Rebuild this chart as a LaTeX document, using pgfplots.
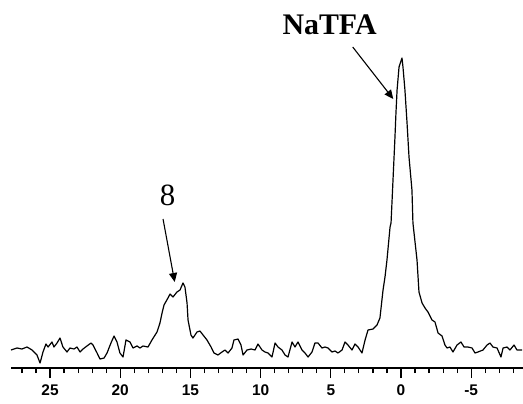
\documentclass[border=0pt]{standalone}
\usepackage{pgfplots}
\pgfplotsset{compat=1.18}
\usetikzlibrary{arrows.meta}
\usepackage{fontspec}
\setmainfont{Liberation Serif}
\newfontfamily\arialfont{Liberation Sans}
\begin{document}
\begin{tikzpicture}[x=1bp,y=1bp]
\useasboundingbox (0,0) rectangle (523,403);
\begin{axis}[
  at={(11bp,35bp)}, anchor=south west,
  scale only axis, width=512bp, height=368bp,
  x dir=reverse,
  xmin=-8.69, xmax=27.78, ymin=0, ymax=368,
  axis x line=bottom, axis y line=none,
  axis line style={line width=1.6bp, -},
  xtick={-5,0,5,10,15,20,25},
  minor xtick={-8,-7,-6,-4,-3,-2,-1,1,2,3,4,6,7,8,9,11,12,13,14,16,17,18,19,21,22,23,24,26,27},
  tick align=outside,
  major tick length=10bp, minor tick length=5bp,
  every tick/.style={line width=1.2bp, black},
  xticklabel style={font=\arialfont\bfseries\fontsize{15.5}{17}\selectfont, yshift=-6bp, inner sep=1bp},
  /pgf/number format/assume math mode=true,
  clip=false,
]
\addplot[black, line width=1.2bp, line join=round] coordinates {
(27.78,18) (27.35,20) (27.00,19) (26.64,21) (26.28,18) (25.93,13) (25.71,5) (25.50,16)
(25.29,24) (25.14,21) (24.86,26) (24.72,21) (24.50,25) (24.29,30) (24.08,21) (23.79,16)
(23.58,20) (23.29,19) (23.08,21) (22.86,16) (22.65,19) (22.37,22) (22.08,25) (21.94,23)
(21.65,15) (21.44,9) (21.15,10) (20.94,15) (20.66,25) (20.44,32) (20.23,26) (20.02,15)
(19.80,11) (19.59,28) (19.30,26) (19.09,20) (18.80,22) (18.59,20) (18.38,22) (18.02,21)
(17.74,28) (17.38,36) (17.17,45) (17.02,55) (16.88,63) (16.60,70) (16.45,74) (16.24,71)
(15.96,76) (15.74,78) (15.53,85) (15.39,81) (15.24,65) (15.17,48) (14.96,33) (14.82,30)
(14.53,36) (14.32,37) (14.10,33) (13.82,28) (13.53,21) (13.32,15) (13.04,13) (12.75,16)
(12.54,18) (12.32,15) (12.04,20) (11.90,28) (11.61,29) (11.40,23) (11.25,13) (10.97,18)
(10.68,19) (10.40,18) (10.19,24) (9.90,18) (9.69,16) (9.47,15) (9.19,11) (8.97,25)
(8.76,21) (8.48,18) (8.26,13) (8.05,11) (7.76,26) (7.55,21) (7.34,26) (7.05,18)
(6.84,15) (6.62,11) (6.34,16) (6.13,25) (5.91,25) (5.63,20) (5.41,21) (5.20,20)
(4.91,16) (4.70,17) (4.49,15) (4.20,18) (3.99,26) (3.78,23) (3.49,18) (3.28,24)
(3.06,21) (2.78,15) (2.56,28) (2.35,38) (1.99,39) (1.71,43) (1.50,50) (1.28,78)
(1.14,91) (1.00,108) (0.78,141) (0.71,145) (0.57,188) (0.43,231) (0.36,255) (0.28,278)
(0.14,301) (-0.07,310) (-0.14,301) (-0.28,278) (-0.43,245) (-0.57,211) (-0.78,178) (-0.85,145)
(-1.14,108) (-1.28,76) (-1.50,65) (-1.71,60) (-1.92,56) (-2.21,48) (-2.42,46) (-2.64,35)
(-2.92,32) (-3.13,23) (-3.28,20) (-3.49,21) (-3.70,16) (-3.99,23) (-4.27,26) (-4.49,21)
(-4.77,21) (-5.06,20) (-5.27,15) (-5.48,16) (-5.84,18) (-6.13,23) (-6.34,25) (-6.55,21)
(-6.84,20) (-7.12,11) (-7.27,20) (-7.55,21) (-7.76,18) (-8.05,23) (-8.26,18) (-8.62,18)
};
\node[anchor=base, font=\bfseries\fontsize{30}{32}\selectfont, inner sep=0pt] at (axis cs:5.09,333) {NaTFA};
\node[anchor=base, font=\fontsize{31}{33}\selectfont, inner sep=0pt] at (axis cs:16.63,163) {8};
\draw[-{Triangle[length=9bp,width=8bp]}, line width=1.1bp] (axis cs:3.44,321) -- (axis cs:0.55,269);
\draw[-{Triangle[length=9bp,width=8bp]}, line width=1.1bp] (axis cs:16.95,149) -- (axis cs:16.12,86);
\end{axis}
\end{tikzpicture}
\end{document}
